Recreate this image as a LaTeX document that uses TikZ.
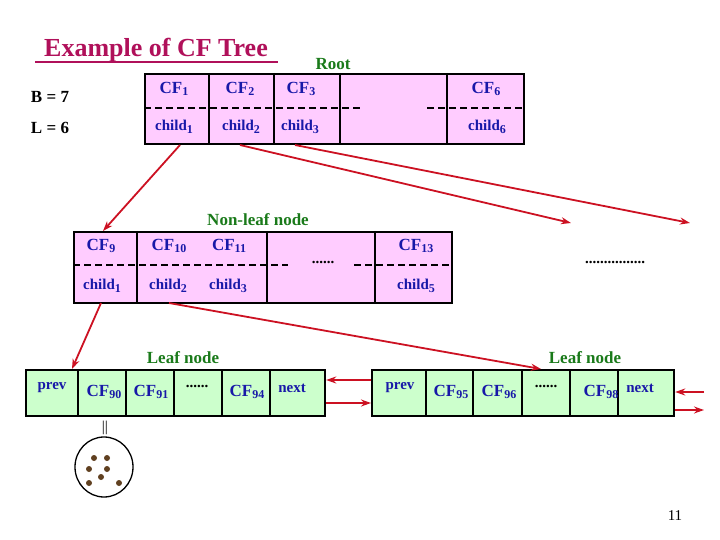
\documentclass[tikz,border=0pt]{standalone}
\usepackage{fontspec}
\setmainfont{Liberation Serif}
\usetikzlibrary{arrows.meta,shapes.geometric}
\definecolor{ttl}{HTML}{B0105A}
\definecolor{bl}{HTML}{1818A8}
\definecolor{gr}{HTML}{1A7A1A}
\definecolor{pk}{HTML}{FFCCFF}
\definecolor{lg}{HTML}{CCFFCC}
\definecolor{rd}{HTML}{CC1122}
\newcommand{\sbs}[1]{\raisebox{-0.35ex}{\fontsize{12}{12}\selectfont\bfseries #1}}
\tikzset{
  box/.style={draw,line width=2.2pt,inner sep=0,anchor=north west},
  txt/.style={text=bl,font=\bfseries\fontsize{17}{17}\selectfont,inner sep=0},
  ch/.style={text=bl,font=\bfseries\fontsize{15}{15}\selectfont,inner sep=0},
  dots/.style={font=\bfseries\fontsize{15}{15}\selectfont,inner sep=0},
  lbl/.style={text=gr,font=\bfseries\fontsize{17}{17}\selectfont,inner sep=0},
  sep/.style={line width=2.2pt},
  dsh/.style={line width=2pt,dash pattern=on 7pt off 4pt},
  rarr/.style={rd,line width=1.8pt,-{Stealth[length=10pt,width=7pt]}},
}
\begin{document}
\begin{tikzpicture}[x=1pt,y=-1pt]
\useasboundingbox (0,0) rectangle (720,540);
\node[text=ttl,font=\bfseries\fontsize{26}{26}\selectfont,inner sep=0] (title) at (156,50) {Example of CF Tree};
\draw[ttl,line width=2pt] (35,62) -- (278,62);
\node[lbl] (rootl) at (333,64) {Root};
\node[font=\bfseries\fontsize{17}{17}\selectfont,inner sep=0] (B) at (50,97) {B = 7};
\node[font=\bfseries\fontsize{17}{17}\selectfont,inner sep=0] (L) at (50,128) {L = 6};
% root
\node[box,fill=pk,minimum width=379pt,minimum height=70pt] (root) at (144,73) {};
\foreach \x in {209,274,340,447} \draw[sep] (\x,73) -- (\x,143);
\draw[dsh] (144,108) -- (360,108);
\draw[dsh] (427,108) -- (523,108);
\node[txt] (r1) at (174,89) {CF\sbs{1}};
\node[txt] (r2) at (240,89) {CF\sbs{2}};
\node[txt] (r3) at (301,89) {CF\sbs{3}};
\node[txt] (r6) at (486,89) {CF\sbs{6}};
\node[ch] (c1) at (174,127) {child\sbs{1}};
\node[ch] (c2) at (241,127) {child\sbs{2}};
\node[ch] (c3) at (300,127) {child\sbs{3}};
\node[ch] (c6) at (487,127) {child\sbs{6}};
% non-leaf
\node[lbl] (nll) at (258,220) {Non-leaf node};
\node[box,fill=pk,minimum width=378pt,minimum height=71pt] (nl) at (73,231) {};
\foreach \x in {137,267,375} \draw[sep] (\x,231) -- (\x,302);
\draw[dsh] (73,265) -- (288,265);
\draw[dsh] (354,265) -- (451,265);
\node[txt] (n9) at (101,246) {CF\sbs{9}};
\node[txt] (n10) at (169,246) {CF\sbs{10}};
\node[txt] (n11) at (229,246) {CF\sbs{11}};
\node[txt] (n13) at (416,246) {CF\sbs{13}};
\node[dots] (ndots) at (323,262) {......};
\node[dots] (rdots) at (615,262) {................};
\node[ch] (d1) at (102,286) {child\sbs{1}};
\node[ch] (d2) at (168,286) {child\sbs{2}};
\node[ch] (d3) at (228,286) {child\sbs{3}};
\node[ch] (d5) at (416,286) {child\sbs{5}};
% leaf 1
\node[lbl] (ll1) at (183,358) {Leaf node};
\node[box,fill=lg,minimum width=299pt,minimum height=46pt] (leaf1) at (25,369) {};
\foreach \x in {78,126,174,222,270} \draw[sep] (\x,369) -- (\x,415);
\node[ch] (p1) at (52,388) {prev};
\node[txt] at (104,392) {CF\sbs{90}};
\node[txt] at (151,392) {CF\sbs{91}};
\node[dots] at (197,386) {......};
\node[txt] at (247,392) {CF\sbs{94}};
\node[ch] (nx1) at (292,388) {next};
% leaf 2
\node[lbl] (ll2) at (585,358) {Leaf node};
\node[box,fill=lg,minimum width=302pt,minimum height=46pt] (leaf2) at (371,369) {};
\foreach \x in {426,473,522,570,618} \draw[sep] (\x,369) -- (\x,415);
\node[ch] (p2) at (400,388) {prev};
\node[txt] at (451,392) {CF\sbs{95}};
\node[txt] at (499,392) {CF\sbs{96}};
\node[dots] at (546,386) {......};
\node[txt] at (601,392) {CF\sbs{98}};
\node[ch] (nx2) at (640,388) {next};
% links
\draw[rarr] (leaf2.north west |- 0,380) -- (leaf1.north east |- 0,380);
\draw[rarr] (leaf1.north east |- 0,403) -- (leaf2.north west |- 0,403);
\coordinate (e1) at (704,392);
\coordinate (e2) at (704,410);
\draw[rarr] (e1) -- (leaf2.north east |- 0,392);
\draw[rarr] (leaf2.north east |- 0,410) -- (e2);
% tree arrows
\coordinate (t1) at (571,223);
\coordinate (t2) at (690,223);
\draw[rarr] (180,145) -- (nl.north west -| 103,0);
\draw[rarr] (240,145) -- (t1);
\draw[rarr] (295,145) -- (t2);
\draw[rarr] (101,303) -- (leaf1.north west -| 72,0);
\draw[rarr] (169,303) -- (leaf2.north west -| 541,0);
% cluster
\node[font=\fontsize{15}{15}\selectfont,inner sep=0] (bar) at (105,428) {||};
\node[draw,line width=1.3pt,ellipse,minimum width=58pt,minimum height=60pt,inner sep=0] (cl) at (104,467) {};
\foreach \p in {(94,458),(107,458),(89,469),(107,469),(101,477),(89,483),(119,483)}
  \fill[brown!50!black] \p circle (3pt);
\node[font=\fontsize{15}{15}\selectfont,inner sep=0] (pg) at (675,516) {11};
\end{tikzpicture}
\end{document}
